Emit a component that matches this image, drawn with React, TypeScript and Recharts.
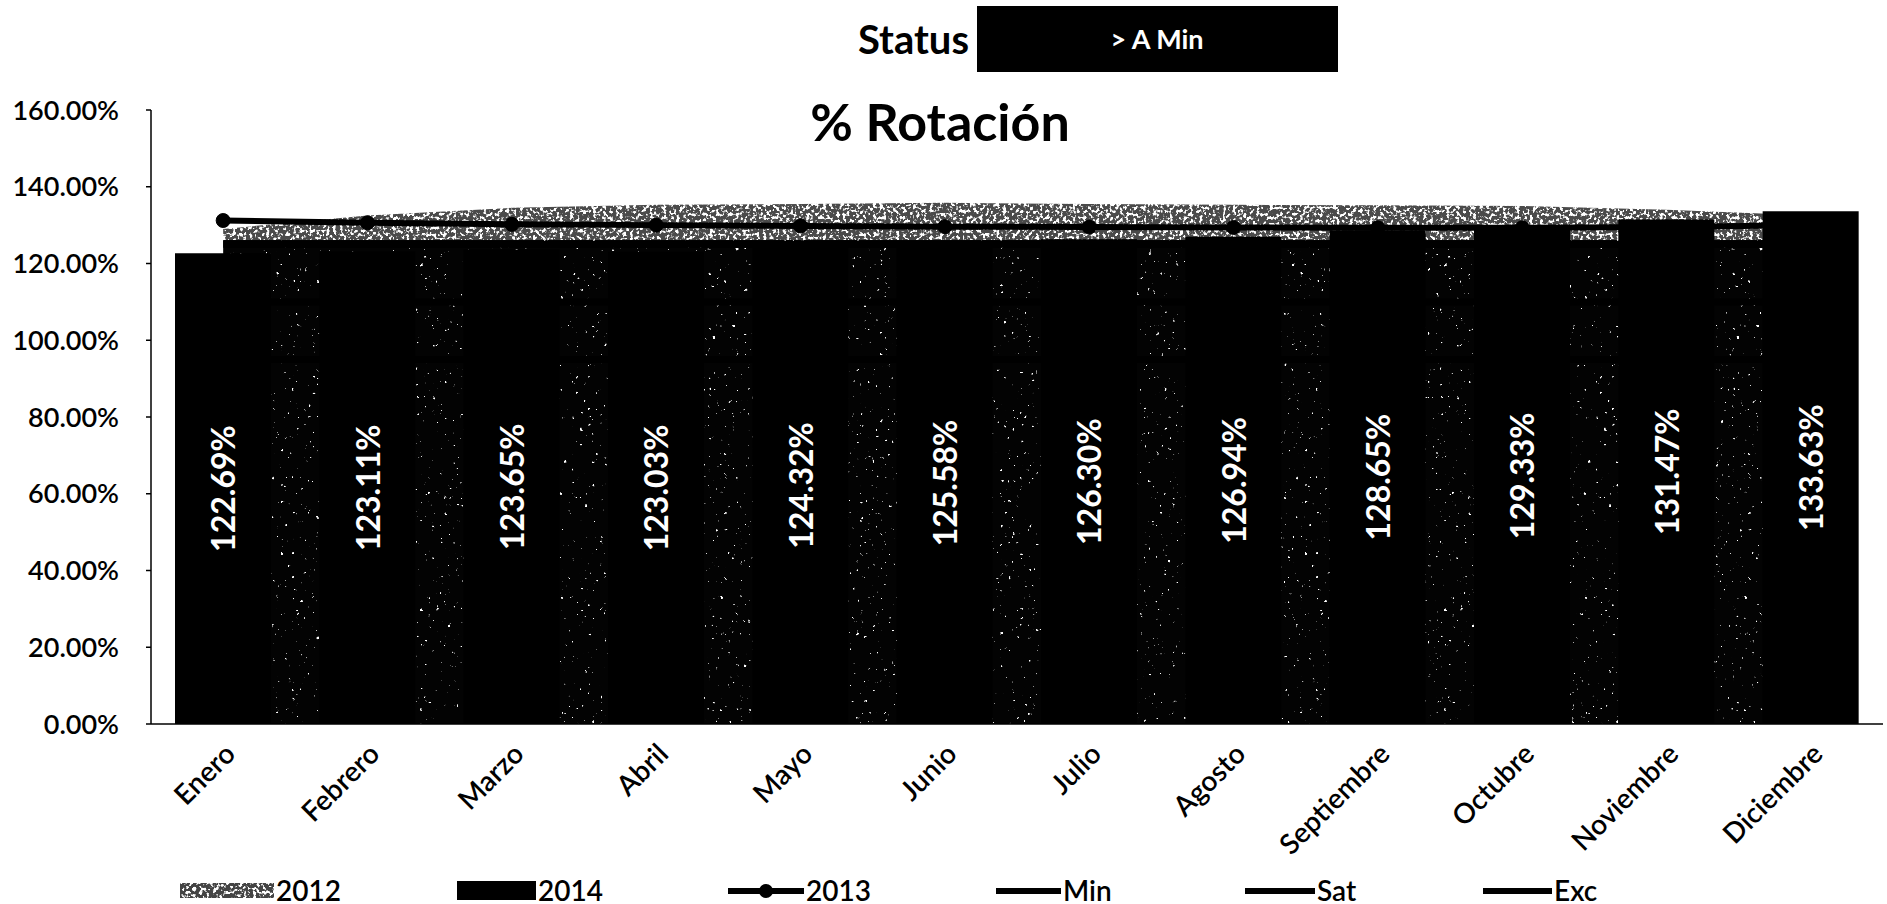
import React from 'react';
import { ComposedChart, Bar, Line, Area, XAxis, YAxis, Legend, LabelList } from 'recharts';

// Monthly rotation (%), one value per month
const months = ['Enero', 'Febrero', 'Marzo', 'Abril', 'Mayo', 'Junio', 'Julio', 'Agosto', 'Septiembre', 'Octubre', 'Noviembre', 'Diciembre'];
const rot2014 = [122.69, 123.11, 123.65, 123.03, 124.32, 125.58, 126.3, 126.94, 128.65, 129.33, 131.47, 133.63];
const rot2012 = [129.0, 132.5, 134.5, 135.3, 135.5, 135.8, 135.5, 135.3, 135.2, 135.0, 134.0, 132.5];
const rot2013 = [131.2, 130.6, 130.2, 130.0, 129.8, 129.6, 129.5, 129.4, 129.3, 129.3, 129.5, 130.0];
const minLevel = [95, 95, 95, 95, 95, 95, 95, 95, 95, 95, 95, 95];
const satLevel = [110, 110, 110, 110, 110, 110, 110, 110, 110, 110, 110, 110];
const excLevel = [125, 125, 125, 125, 125, 125, 125, 125, 125, 125, 125, 125];

const yTicks = [0, 20, 40, 60, 80, 100, 120, 140, 160];
const monthEdges = [0, 1, 2, 3, 4, 5, 6, 7, 8, 9, 10, 11, 12];

const statusLabel = 'Status';
const statusValue = '> A Min';
const chartTitle = '% Rotación';

const data = months.map((month, i) => ({
  month,
  y2012: rot2012[i],
  y2014: rot2014[i],
  y2013: rot2013[i],
  min: minLevel[i],
  sat: satLevel[i],
  exc: excLevel[i],
}));

const FONT = 'Lato, "Open Sans", sans-serif';

const fmtPct = (v: number) => `${v.toFixed(2)}%`;

// legend entries: name + swatch kind and placement along the bottom row
const legendLayout = [
  { name: '2012', kind: 'grain', left: 180, w: 94 },
  { name: '2014', kind: 'block', left: 457, w: 79 },
  { name: '2013', kind: 'lineDot', left: 728, w: 76 },
  { name: 'Min', kind: 'line', left: 996, w: 65 },
  { name: 'Sat', kind: 'line', left: 1245, w: 70 },
  { name: 'Exc', kind: 'line', left: 1483, w: 69 },
];

const Swatch = ({ kind, w }: { kind: string; w: number }) => {
  const h = 24;
  if (kind === 'grain') {
    return (
      <svg width={w} height={h}>
        <rect x={0} y={5} width={w} height={15} fill="#444" filter="url(#grainDense)" />
      </svg>
    );
  }
  if (kind === 'block') {
    return (
      <svg width={w} height={h}>
        <rect x={0} y={3} width={w} height={19} fill="#000" />
      </svg>
    );
  }
  return (
    <svg width={w} height={h}>
      <line x1={0} x2={w} y1={13} y2={13} stroke="#000" strokeWidth={6} />
      {kind === 'lineDot' && <circle cx={w / 2} cy={13} r={7} fill="#000" />}
    </svg>
  );
};

const LegendRow = () => (
  <div style={{ position: 'relative', width: 1883, height: 46, fontFamily: FONT }}>
    {legendLayout.map((item) => (
      <div
        key={item.name}
        style={{ position: 'absolute', left: item.left, top: 17, height: 30, display: 'flex', alignItems: 'center' }}
      >
        <Swatch kind={item.kind} w={item.w} />
        <span style={{ fontSize: 28, fontWeight: 600, marginLeft: 2, color: '#000', lineHeight: '30px' }}>{item.name}</span>
      </div>
    ))}
  </div>
);

const MonthTick = (props: any) => {
  const { x, y, payload } = props;
  const ax = x + 6;
  const ay = y + 24;
  return (
    <text
      x={ax}
      y={ay}
      textAnchor="end"
      dominantBaseline="central"
      transform={`rotate(-45, ${ax}, ${ay})`}
      fontFamily={FONT}
      fontSize={28}
      fontWeight={600}
      fill="#000"
    >
      {payload.value}
    </text>
  );
};

const EmptyTick = () => <g />;

const BarValue = (props: any) => {
  const { x, y, width, height, value } = props;
  const cx = x + width / 2;
  const cy = y + height / 2;
  return (
    <text
      x={cx}
      y={cy}
      transform={`rotate(-90, ${cx}, ${cy})`}
      textAnchor="middle"
      dominantBaseline="central"
      fill="#fff"
      fontFamily={FONT}
      fontSize={32}
      fontWeight={700}
    >
      {fmtPct(Number(value))}
    </text>
  );
};

// speckle filter: white grains where the noise passes a threshold, kept inside the shape
const GrainFilter = ({ id, slope, cut, seed, freq }: { id: string; slope: number; cut: number; seed: number; freq: string }) => (
  <filter id={id} x={0} y={0} width={1887} height={904} filterUnits="userSpaceOnUse" colorInterpolationFilters="sRGB">
    <feTurbulence type="fractalNoise" baseFrequency={freq} numOctaves={2} seed={seed} result="noise" />
    <feColorMatrix
      in="noise"
      type="matrix"
      values={`0 0 0 0 1  0 0 0 0 1  0 0 0 0 1  ${slope} 0 0 0 ${cut}`}
      result="spots"
    />
    <feComposite in="spots" in2="SourceGraphic" operator="in" result="clipped" />
    <feMerge>
      <feMergeNode in="SourceGraphic" />
      <feMergeNode in="clipped" />
    </feMerge>
  </filter>
);

export default function App() {
  return (
    <div style={{ position: 'absolute', left: 0, top: 0, width: 1887, height: 904, background: '#fff', fontFamily: FONT }}>
      <svg width={0} height={0} style={{ position: 'absolute' }}>
        <defs>
          <GrainFilter id="grainDense" slope={9} cut={-4.6} seed={4} freq="0.3" />
          <GrainFilter id="grainSparse" slope={14} cut={-10.2} seed={9} freq="0.25" />
          <pattern id="tex2012" patternUnits="userSpaceOnUse" x={0} y={0} width={1887} height={904}>
            <rect x={0} y={0} width={1887} height={240} fill="#4a4a4a" filter="url(#grainDense)" />
            <rect x={0} y={240} width={1887} height={664} fill="#030303" filter="url(#grainSparse)" />
          </pattern>
        </defs>
      </svg>

      <ComposedChart width={1887} height={904} data={data} margin={{ top: 110, right: 4, left: 0, bottom: 0 }}>
        <XAxis
          xAxisId="edges"
          type="number"
          domain={[0, 12]}
          allowDataOverflow
          ticks={monthEdges}
          tick={EmptyTick}
          tickSize={6}
          tickLine={{ stroke: '#000', strokeWidth: 1.5 }}
          axisLine={false}
          height={0}
        />
        <XAxis
          xAxisId="main"
          dataKey="month"
          interval={0}
          height={134}
          tickSize={0}
          tickMargin={0}
          tickLine={false}
          axisLine={{ stroke: '#000', strokeWidth: 1.5 }}
          tick={<MonthTick />}
        />
        <YAxis
          domain={[0, 160]}
          ticks={yTicks}
          tickFormatter={fmtPct}
          width={151}
          tickSize={5}
          tickMargin={27}
          axisLine={{ stroke: '#000', strokeWidth: 1.5 }}
          tickLine={{ stroke: '#000', strokeWidth: 1.5 }}
          tick={{ fill: '#000', fontSize: 27, fontWeight: 600, fontFamily: FONT }}
        />
        <Area
          xAxisId="main"
          type="linear"
          dataKey="y2012"
          name="2012"
          fill="url(#tex2012)"
          fillOpacity={1}
          stroke="none"
          dot={false}
          activeDot={false}
          isAnimationActive={false}
        />
        <Bar xAxisId="main" dataKey="y2014" name="2014" fill="#000" barSize={96} isAnimationActive={false}>
          <LabelList dataKey="y2014" content={<BarValue />} />
        </Bar>
        <Line xAxisId="main" type="linear" dataKey="min" name="Min" stroke="#000" strokeWidth={7} dot={false} activeDot={false} isAnimationActive={false} />
        <Line xAxisId="main" type="linear" dataKey="sat" name="Sat" stroke="#000" strokeWidth={7} dot={false} activeDot={false} isAnimationActive={false} />
        <Line xAxisId="main" type="linear" dataKey="exc" name="Exc" stroke="#000" strokeWidth={7} dot={false} activeDot={false} isAnimationActive={false} />
        <Line
          xAxisId="main"
          type="linear"
          dataKey="y2013"
          name="2013"
          stroke="#000"
          strokeWidth={6}
          dot={{ r: 7, fill: '#000', stroke: '#000', strokeWidth: 1 }}
          activeDot={false}
          isAnimationActive={false}
        />
        <Legend verticalAlign="bottom" align="left" content={<LegendRow />} wrapperStyle={{ left: 0, bottom: 0, width: 1883 }} />
      </ComposedChart>

      <svg width={1887} height={170} style={{ position: 'absolute', left: 0, top: 0, pointerEvents: 'none' }}>
        <text x={969} y={54} textAnchor="end" fontFamily={FONT} fontSize={40} fontWeight={700} fill="#000">
          {statusLabel}
        </text>
        <rect x={977} y={6} width={361} height={66} fill="#000" />
        <text x={1157} y={49} textAnchor="middle" fontFamily={FONT} fontSize={27} fontWeight={700} fill="#fff">
          {statusValue}
        </text>
        <text x={940} y={141} textAnchor="middle" fontFamily={FONT} fontSize={52} fontWeight={700} fill="#000">
          {chartTitle}
        </text>
      </svg>
    </div>
  );
}
